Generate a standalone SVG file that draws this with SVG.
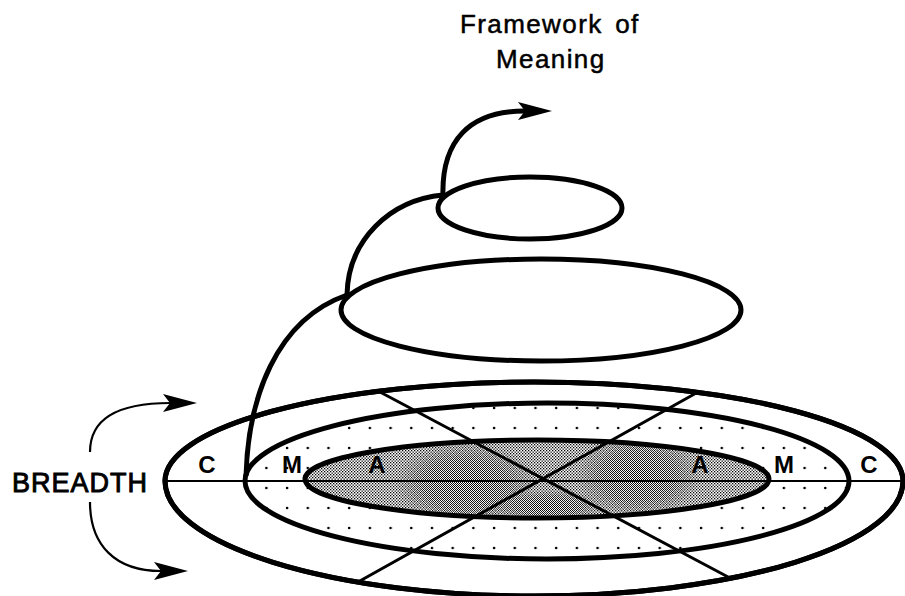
<svg xmlns="http://www.w3.org/2000/svg" width="905" height="596" viewBox="0 0 905 596">
  <style>
    .thick { fill: none; stroke: #000; stroke-width: 5; }
    .spoke { fill: none; stroke: #000; stroke-width: 3; stroke-linecap: round; }
    .axis { fill: none; stroke: #000; stroke-width: 2; }
    .thin { fill: none; stroke: #000; stroke-width: 2.2; }
    .lbl { font-family: "Liberation Sans", Arial, sans-serif; font-weight: bold; font-size: 24px; fill: #000; text-anchor: middle; }
    .title { font-family: "Liberation Sans", Arial, sans-serif; font-size: 26px; fill: #000; stroke: #000; stroke-width: 0.5; letter-spacing: 1.4px; }
    .side { font-family: "Liberation Sans", Arial, sans-serif; font-size: 27px; fill: #000; stroke: #000; stroke-width: 0.9; letter-spacing: 1px; }
  </style>
  <defs>
    <marker id="arrow" markerUnits="userSpaceOnUse" markerWidth="40" markerHeight="22" viewBox="0 -11 40 22" refX="7" refY="0" orient="auto">
      <path d="M0,-9 L34,0 L0,9 L7,0 Z" fill="#000"/>
    </marker>
    <pattern id="dots" patternUnits="userSpaceOnUse" x="8" y="418" width="20.7" height="20">
      <circle cx="10" cy="10" r="1.3" fill="#000"/>
    </pattern>
    <pattern id="stipLight" patternUnits="userSpaceOnUse" width="3" height="3">
      <rect width="3" height="3" fill="#fff"/>
      <rect x="0" y="0" width="1.3" height="1.3" fill="#000"/>
      <rect x="1.5" y="1.5" width="1.3" height="1.3" fill="#000"/>
    </pattern>
    <pattern id="stipDark" patternUnits="userSpaceOnUse" width="2" height="2">
      <rect width="2" height="2" fill="#fff"/>
      <rect x="0" y="0" width="1" height="1" fill="#000"/>
      <rect x="1" y="1" width="1" height="1" fill="#000"/>
    </pattern>
    <radialGradient id="fade">
      <stop offset="0" stop-color="#fff" stop-opacity="1"/>
      <stop offset="0.6" stop-color="#fff" stop-opacity="0.8"/>
      <stop offset="1" stop-color="#fff" stop-opacity="0"/>
    </radialGradient>
    <mask id="darkMask">
      <ellipse cx="465" cy="484" rx="70" ry="42" fill="url(#fade)"/>
      <ellipse cx="638" cy="476" rx="62" ry="42" fill="url(#fade)"/>
      <ellipse cx="548" cy="506" rx="55" ry="16" fill="url(#fade)"/>
    </mask>
    <clipPath id="innerClip">
      <ellipse cx="537" cy="479" rx="232" ry="39"/>
    </clipPath>
  </defs>

  <rect width="905" height="596" fill="#fff"/>

  <!-- Title -->
  <g id="framework-label">
    <text class="title" x="460" y="33" word-spacing="4">Framework of</text>
    <text class="title" x="496" y="68">Meaning</text>
  </g>

  <!-- Base rings -->
  <g id="ring-C">
    <path class="thick" d="M165,481 A369,99 0 0 1 903,481 A369,115 0 0 1 165,481 Z" fill="#fff"/>
  </g>
  <g id="ring-M">
    <ellipse cx="547" cy="481" rx="302" ry="78" fill="url(#dots)" stroke="none"/>
  </g>
  <g id="ring-A">
    <ellipse cx="537" cy="479" rx="232" ry="39" fill="url(#stipLight)" stroke="none"/>
    <g clip-path="url(#innerClip)">
      <rect x="300" y="430" width="480" height="100" fill="url(#stipDark)" mask="url(#darkMask)"/>
    </g>
  </g>

  <!-- Axes / spokes -->
  <g id="spokes">
    <line class="axis" x1="165" y1="481" x2="903" y2="481"/>
    <line class="spoke" x1="380" y1="392" x2="730" y2="578"/>
    <line class="spoke" x1="698" y1="392" x2="358" y2="582"/>
  </g>

  <!-- Ring outlines -->
  <g id="ring-outlines">
    <path class="thick" d="M165,481 A369,99 0 0 1 903,481 A369,115 0 0 1 165,481 Z"/>
    <ellipse class="thick" cx="547" cy="481" rx="302" ry="78"/>
    <ellipse class="thick" cx="537" cy="479" rx="232" ry="39"/>
  </g>

  <!-- Ring labels -->
  <g id="labels-left">
    <text class="lbl" x="207" y="473">C</text>
    <text class="lbl" x="292" y="473">M</text>
    <text class="lbl" x="377" y="473">A</text>
  </g>
  <g id="labels-right">
    <text class="lbl" x="700" y="473">A</text>
    <text class="lbl" x="784" y="473">M</text>
    <text class="lbl" x="869" y="473">C</text>
  </g>

  <!-- Spiral loops -->
  <g id="loop-large">
    <ellipse class="thick" cx="541" cy="310" rx="200" ry="51"/>
  </g>
  <g id="loop-small">
    <ellipse class="thick" cx="530" cy="208" rx="92" ry="31"/>
  </g>

  <!-- BREADTH label -->
  <g id="breadth-label">
    <text class="side" x="12" y="492">BREADTH</text>
  </g>

  <!-- Connectors -->
  <g id="connectors">
    <path class="thick" d="M246,476 C248,400 275,320 347,295"/>
    <path class="thick" d="M347,295 C348,240 390,200 443,195"/>
    <path class="thick" d="M443,197 C441,140 470,111 525,111" marker-end="url(#arrow)"/>
    <path class="thin" d="M90,452 C90,420 115,403 170,403" marker-end="url(#arrow)"/>
    <path class="thin" d="M90,502 C90,545 115,571 161,571" marker-end="url(#arrow)"/>
  </g>
</svg>
